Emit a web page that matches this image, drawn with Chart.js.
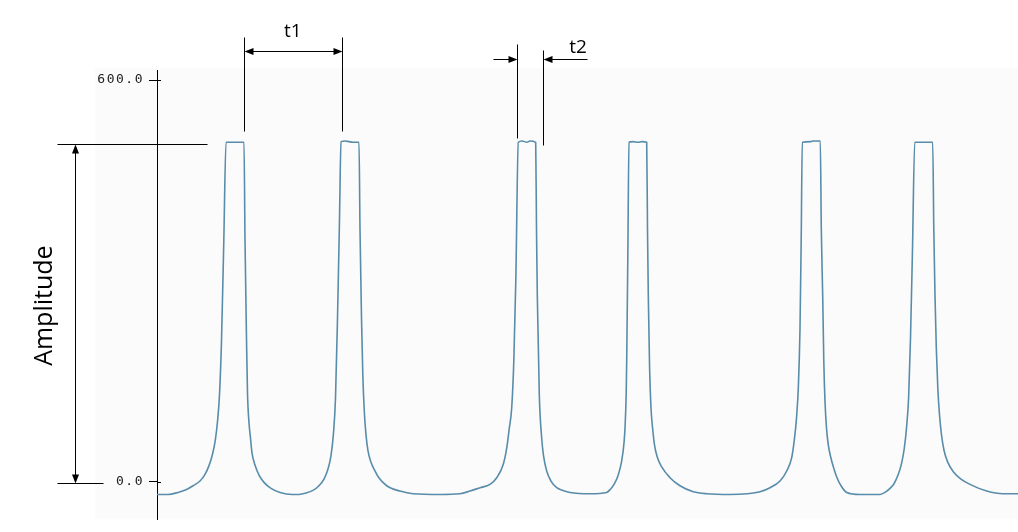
<!DOCTYPE html>
<html>
<head>
<meta charset="utf-8">
<title>Amplitude - t1 - t2</title>
<script src="https://cdn.jsdelivr.net/npm/chart.js@4.4.1/dist/chart.umd.min.js"></script>
<style>
  html, body { margin: 0; padding: 0; background: #fff; }
  #wrap { position: relative; width: 1018px; height: 532px; }
</style>
</head>
<body>
<div id="wrap"><canvas id="signal"></canvas></div>
<script>
// Señal: número de muestra (x) y amplitud (y)
const sampleX = [
    0, 11, 21, 29, 36, 43, 48, 52, 55.5, 58.3, 60.5, 62.5, 64.5, 66.8, 69,
    78, 87, 88, 89.5, 90.5, 92, 93.5, 95, 98, 102, 107, 114, 123, 135,
    142, 149, 156, 162, 167, 171, 174, 176.5, 178.5, 180.5, 182.5, 184,
    188, 192, 196, 202, 203, 204.5, 205.8, 207.3, 209, 211, 214, 218, 221.3, 229.7, 243, 256, 283, 303,
    313, 323, 333, 339.7, 346.3, 349.7, 352.3, 354.7, 356.8, 358.8, 361.3,
    365, 370, 373, 378.7, 379.5, 380.3, 382.3, 384.7, 386.5, 389.7, 394, 399.7, 406, 413, 433,
    449.7, 453, 457, 461, 464.7, 467, 468, 469.2, 469.7, 470.8, 472,
    476, 481, 485, 489.7, 490.5, 491.3, 492.6, 494, 495.6, 497.5, 500, 504.7, 513, 523, 536.3, 549.7, 573,
    589.7, 603, 613, 623, 629.7, 634.7, 637.3, 639.5, 641.3, 643, 644.2, 645.3,
    654, 656, 663.3, 664.3, 665.7, 666.8, 668, 669.5, 671.3, 674, 677, 680, 684, 689.7, 703, 723,
    728, 733, 737, 741.3, 744.5, 747.3, 749.6, 751.6, 753.5, 755.5, 757.7,
    767, 775.7, 776.8, 778, 779.3, 780.8, 782.5, 784.5, 787, 790.5, 796.3, 804, 813, 829.7, 846, 861
];
const amplitude = [
    -19, -19, -16, -12, -6, 1, 11, 24, 41, 62, 90, 130, 210, 360, 507,
    507, 507, 362, 214, 132, 88, 65, 43, 25, 10, -1, -10, -16, -19,
    -19, -17, -13, -6, 4, 19, 39, 73, 125, 244, 392, 508,
    509, 508, 507, 507, 377, 244, 160, 105, 70, 46, 29, 16, 7, -6, -14, -18, -19, -18,
    -14, -9, -4, 6, 26, 50, 80, 110, 180, 300, 507,
    509, 507, 509, 507, 377, 278, 130, 65, 39, 16, 1, -9, -13, -16, -18,
    -16, -12, -4, 9, 31, 58, 80, 132, 180, 333, 507,
    508, 507, 508, 507, 377, 278, 169, 110, 80, 55, 38, 22, 6, -6, -15, -18, -19,
    -18, -15, -9, 1, 16, 36, 62, 95, 140, 229, 362, 507,
    508, 509, 509, 377, 278, 180, 120, 80, 55, 35, 19, 6, -6, -16, -19, -19,
    -16, -10, -3, 11, 27, 50, 82, 125, 214, 348, 507,
    507, 507, 377, 278, 200, 140, 100, 70, 47, 30, 15, 4, -4, -14, -18, -18
];
const yTicks = [0, 600];
const axisLabel = 'Amplitude';
const periodLabels = ['t1', 't2'];

// Cotas dibujadas encima (en unidades de los ejes)
const PLATEAU = 504;
const ZERO_MARK = -2;
const PANEL_LEFT = -62;
const T1 = { from: 87, to: 184.5, top: 664, bottom: 524, arrowY: 643.5, textY: 665 };
const T2 = { from: 360.3, to: 385.7, topL: 653.5, topR: 644.5, bottomL: 514, bottomR: 503.5,
             arrowY: 632, outL: 335.7, outR: 430.3, textX: 421, textY: 640 };

function arrowHead(ctx, x, y, dir) {
    const len = 9, half = 3.5;
    ctx.beginPath();
    ctx.moveTo(x, y);
    if (dir === 'right') { ctx.lineTo(x - len, y - half); ctx.lineTo(x - len, y + half); }
    if (dir === 'left')  { ctx.lineTo(x + len, y - half); ctx.lineTo(x + len, y + half); }
    if (dir === 'up')    { ctx.lineTo(x - half, y + len); ctx.lineTo(x + half, y + len); }
    if (dir === 'down')  { ctx.lineTo(x - half, y - len); ctx.lineTo(x + half, y - len); }
    ctx.closePath();
    ctx.fill();
}

function seg(ctx, x1, y1, x2, y2) {
    ctx.beginPath();
    ctx.moveTo(x1, y1);
    ctx.lineTo(x2, y2);
    ctx.stroke();
}

const markers = {
    id: 'markers',
    beforeDraw(chart) {
        const { ctx, chartArea, scales: { x } } = chart;
        // fondo gris casi blanco del panel
        const left = x.getPixelForValue(PANEL_LEFT);
        ctx.save();
        ctx.fillStyle = '#fbfbfb';
        ctx.fillRect(left, chartArea.top - 2, chartArea.right - left, chartArea.bottom - chartArea.top + 2);
        ctx.restore();
        // las etiquetas del eje van espaciadas
        ctx.letterSpacing = '1.5px';
    },
    afterDraw(chart) {
        const { ctx, scales: { x, y } } = chart;
        const px = v => Math.round(x.getPixelForValue(v)) + 0.5;
        const py = v => Math.round(y.getPixelForValue(v)) + 0.5;
        ctx.letterSpacing = '0px';
        ctx.save();
        ctx.strokeStyle = '#000';
        ctx.fillStyle = '#000';
        ctx.lineWidth = 1;

        // pequeño tramo de cada marca a la derecha del eje
        yTicks.forEach(v => seg(ctx, chart.chartArea.left, py(v), chart.chartArea.left + 4, py(v)));

        // amplitud: líneas de referencia y flecha doble
        seg(ctx, px(-100), py(PLATEAU), px(50), py(PLATEAU));
        seg(ctx, px(-100), py(ZERO_MARK), px(-54), py(ZERO_MARK));
        seg(ctx, px(-82), py(PLATEAU) + 8, px(-82), py(ZERO_MARK) - 8);
        arrowHead(ctx, px(-82), py(PLATEAU), 'up');
        arrowHead(ctx, px(-82), py(ZERO_MARK), 'down');

        ctx.save();
        ctx.translate(x.getPixelForValue(-112), y.getPixelForValue(263));
        ctx.rotate(-Math.PI / 2);
        ctx.font = '25px "Open Sans"';
        ctx.textAlign = 'center';
        ctx.textBaseline = 'middle';
        ctx.fillText(axisLabel, 0, 0);
        ctx.restore();

        // t1: periodo entre pulsos
        seg(ctx, px(T1.from), py(T1.top), px(T1.from), py(T1.bottom));
        seg(ctx, px(T1.to), py(T1.top), px(T1.to), py(T1.bottom));
        seg(ctx, px(T1.from) + 8, py(T1.arrowY), px(T1.to) - 8, py(T1.arrowY));
        arrowHead(ctx, px(T1.from), py(T1.arrowY), 'left');
        arrowHead(ctx, px(T1.to), py(T1.arrowY), 'right');

        // t2: ancho del pulso
        seg(ctx, px(T2.from), py(T2.topL), px(T2.from), py(T2.bottomL));
        seg(ctx, px(T2.to), py(T2.topR), px(T2.to), py(T2.bottomR));
        seg(ctx, px(T2.outL), py(T2.arrowY), px(T2.from) - 8, py(T2.arrowY));
        seg(ctx, px(T2.outR), py(T2.arrowY), px(T2.to) + 8, py(T2.arrowY));
        arrowHead(ctx, px(T2.from), py(T2.arrowY), 'right');
        arrowHead(ctx, px(T2.to), py(T2.arrowY), 'left');

        ctx.font = '19px "Open Sans"';
        ctx.textAlign = 'center';
        ctx.textBaseline = 'alphabetic';
        ctx.fillText(periodLabels[0], x.getPixelForValue((T1.from + T1.to) / 2), y.getPixelForValue(T1.textY));
        ctx.fillText(periodLabels[1], x.getPixelForValue(T2.textX), y.getPixelForValue(T2.textY));
        ctx.restore();
    }
};

const points = sampleX.map((s, i) => ({ x: s, y: amplitude[i] }));

new Chart(document.getElementById('signal'), {
    type: 'line',
    data: {
        datasets: [{
            data: points,
            borderColor: 'rgb(88, 140, 170)',
            borderWidth: 1.6,
            pointRadius: 0,
            cubicInterpolationMode: 'monotone',
            fill: false
        }]
    },
    options: {
        responsive: true,
        maintainAspectRatio: false,
        animation: false,
        layout: { padding: { top: 70, right: 0, bottom: 10, left: 0 } },
        plugins: {
            legend: { display: false },
            tooltip: { enabled: false }
        },
        scales: {
            x: { type: 'linear', min: 0, max: 861, display: false },
            y: {
                type: 'linear',
                min: -56,
                max: 615,
                afterBuildTicks: scale => { scale.ticks = yTicks.map(v => ({ value: v })); },
                afterFit: scale => { scale.width = 157; },
                border: { display: true, color: '#000', width: 1 },
                grid: { drawOnChartArea: false, drawTicks: true, tickLength: 8, color: '#000' },
                ticks: {
                    padding: 5,
                    color: '#222',
                    font: { family: 'DejaVu Sans Mono', size: 13 },
                    callback: v => Number(v).toFixed(1)
                }
            }
        }
    },
    plugins: [markers]
});
</script>
</body>
</html>
